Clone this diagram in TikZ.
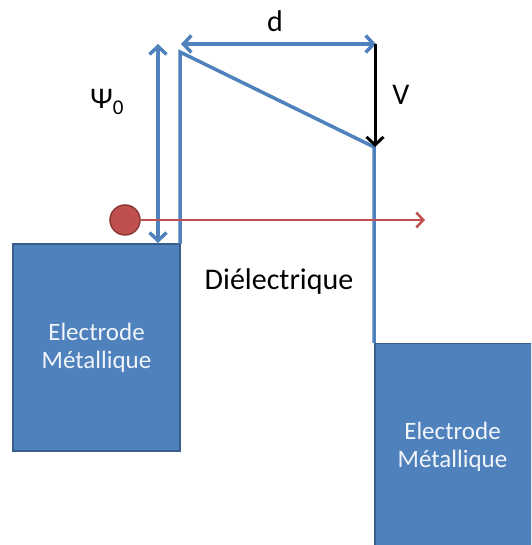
\documentclass[tikz,border=0pt]{standalone}
\usepackage{fontspec}
\setmainfont{Carlito}
\usetikzlibrary{arrows.meta, positioning}
\definecolor{elecblue}{HTML}{4F81BD}
\definecolor{elecdark}{HTML}{385D8A}
\definecolor{chargered}{HTML}{C0504D}
\definecolor{chargedark}{HTML}{8C3836}

\tikzset{
    electrode/.style={draw=elecdark, line width=1.5pt, fill=elecblue, text=white!92!elecblue,
        align=center, font=\fontsize{25}{28}\selectfont, inner sep=0pt},
    barrier/.style={draw=elecblue, line width=3.5pt},
    bluearrow/.style={draw=elecblue, line width=3.5pt, {Straight Barb[length=8pt,width=17pt]}-{Straight Barb[length=8pt,width=17pt]}},
    label/.style={font=\fontsize{30}{34}\selectfont, inner sep=0pt}
}

\begin{document}
\begin{tikzpicture}[x=1pt, y=1pt]
    \useasboundingbox (0,0) rectangle (531,545);

    % electrodes
    \node[electrode, minimum width=167pt, minimum height=207pt] (elecL) at (96.5,197.5) {Electrode\\Métallique};
    \path[clip] (0,0) rectangle (531,545);
    \node[electrode, minimum width=160pt, minimum height=210pt, anchor=north west] (elecR) at (374,202) {};
    \node[electrode, draw=none, fill=none] (elecRtext) at (452.5,98) {Electrode\\Métallique};

    % potential barrier
    \coordinate (b1) at (180,301);
    \coordinate (b2) at (180,493);
    \coordinate (b3) at (374,398);
    \coordinate (b4) at (374,202);
    \draw[barrier, line join=miter] (b1) -- (b2) -- (b3) -- (b4);

    % d
    \coordinate (dL) at (181,501);
    \coordinate (dR) at (376,501);
    \draw[bluearrow] (dL) -- (dR);
    \node[label] (dlab) at (275,524) {d};

    % V
    \coordinate (vT) at (375,501);
    \coordinate (vB) at (375,398);
    \draw[line width=3pt, -{Straight Barb[length=8pt,width=17pt]}] (vT) -- (vB);
    \node[label] (vlab) at (401,450) {V};

    % psi0
    \coordinate (pT) at (158,501);
    \coordinate (pB) at (158,302);
    \draw[bluearrow] (pT) -- (pB);
    \node[label] (plab) at (107,443) {Ψ\raisebox{-6pt}{\fontsize{21}{24}\selectfont 0}};

    % electron
    \node[circle, draw=chargedark, line width=1.5pt, fill=chargered, minimum size=30pt, inner sep=0pt] (charge) at (125,325) {};
    \coordinate (rEnd) at (425,325);
    \draw[draw=chargered, line width=2.5pt, -{Straight Barb[length=7pt,width=15pt]}] (charge.east) -- (rEnd);

    \node[label] (diel) at (279,263) {Diélectrique};
\end{tikzpicture}
\end{document}
